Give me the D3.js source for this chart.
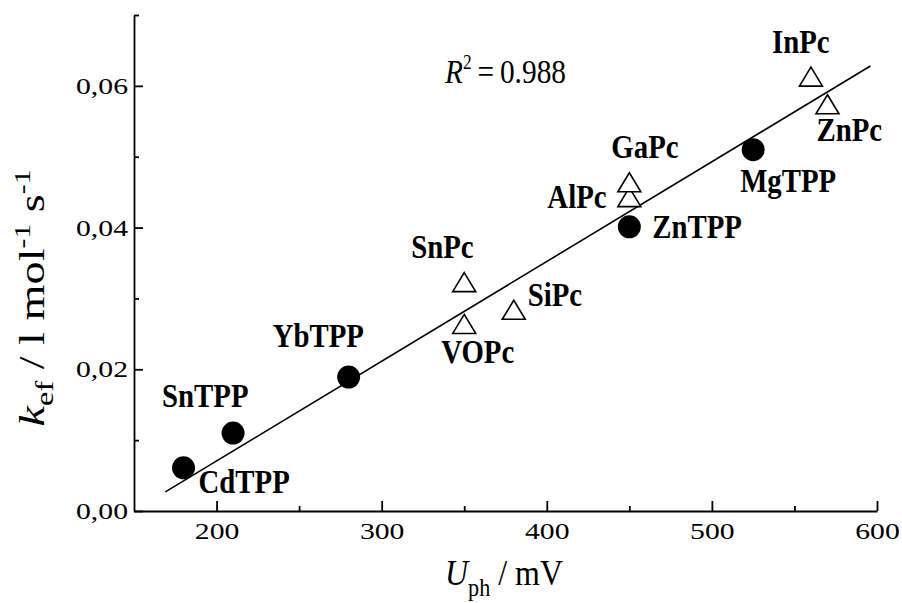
<!DOCTYPE html>
<html>
<head>
<meta charset="utf-8">
<script src="https://cdn.jsdelivr.net/npm/d3@7"></script>
<style>
  body { margin: 0; background: #fff; }
  svg { display: block; }
  svg text { font-family: "Liberation Serif", "Times New Roman", "DejaVu Serif", serif; }
</style>
</head>
<body>
<svg id="chart" width="902" height="603"></svg>
<script>
"use strict";

// compounds, photovoltage (mV) and rate constant
const compounds = ["CdTPP", "SnTPP", "YbTPP", "ZnTPP", "MgTPP",
                   "SnPc", "VOPc", "SiPc", "AlPc", "GaPc", "InPc", "ZnPc"];
const uph = [180, 210, 280, 450, 525, 350, 350, 380, 450, 450, 560, 570];
const kef = [0.0061, 0.0110, 0.0189, 0.0401, 0.0510,
             0.0323, 0.0264, 0.0284, 0.0443, 0.0464, 0.0613, 0.0574];
const family = ["TPP", "TPP", "TPP", "TPP", "TPP",
                "Pc", "Pc", "Pc", "Pc", "Pc", "Pc", "Pc"];

// linear fit end points
const fitU = [169, 596];
const fitK = [0.0027, 0.0628];
const rSquared = "0.988";

// axes
const xTicks = [200, 300, 400, 500, 600];
const xMinor = [250, 350, 450, 550];
const yTicks = [0.00, 0.02, 0.04, 0.06];
const yMinor = [0.01, 0.03, 0.05, 0.07];

const svg = d3.select("#chart");

const x = d3.scaleLinear().domain([150, 600]).range([134, 877]);
const y = d3.scaleLinear().domain([0, 0.07]).range([511, 15]);

// label offsets from the marker to the start of the text (px)
const labelOffset = {
    CdTPP: [15, 25], SnTPP: [-71, -26], YbTPP: [-76, -30], ZnTPP: [23, 11],
    MgTPP: [-13, 42], SnPc: [-53, -24], VOPc: [-23, 39], SiPc: [14, -4],
    AlPc: [-82, 11], GaPc: [-18, -24], InPc: [-39, -24], ZnPc: [-11, 37]
};

// horizontal squeeze so a sample string at a given size gets the width it has in the original
function squeeze(sample, size, targetW, weight) {
    const t = svg.append("text")
        .style("font-size", size + "px")
        .style("font-weight", weight || "normal")
        .text(sample);
    const w = t.node().getComputedTextLength();
    t.remove();
    return targetW / w;
}
const tickPx = 24, labelPx = 34;
const tickK = squeeze("0,06", tickPx, 52);
const labelK = squeeze("MgTPP", labelPx, 96, "bold");

// ---- axes ----
const fmt = d => d.toFixed(2).replace(".", ",");

const gx = svg.append("g")
    .attr("transform", "translate(0," + y(0) + ")")
    .call(d3.axisBottom(x).tickValues(xTicks).tickSizeInner(-10).tickSizeOuter(0).tickPadding(11));
svg.append("g")
    .attr("transform", "translate(0," + y(0) + ")")
    .call(d3.axisBottom(x).tickValues(xMinor).tickSizeInner(-5).tickSizeOuter(0).tickFormat(""))
    .select(".domain").remove();

const gy = svg.append("g")
    .attr("transform", "translate(" + x(150) + ",0)")
    .call(d3.axisLeft(y).tickValues(yTicks).tickSizeInner(-9).tickSizeOuter(0).tickPadding(6).tickFormat(fmt));
svg.append("g")
    .attr("transform", "translate(" + x(150) + ",0)")
    .call(d3.axisLeft(y).tickValues(yMinor).tickSizeInner(-5).tickSizeOuter(0).tickFormat(""))
    .select(".domain").remove();

svg.selectAll(".domain, .tick line")
    .attr("stroke", "#000")
    .attr("stroke-width", 1.8);
svg.selectAll(".tick text")
    .attr("fill", "#000")
    .style("font-size", tickPx + "px");
gx.selectAll(".tick text")
    .attr("transform", "scale(" + tickK + ",1)");
gy.selectAll(".tick text")
    .attr("transform", "translate(-6,0) scale(" + tickK + ",1) translate(6,0)");

// ---- axis titles ----
const xTitle = svg.append("text")
    .attr("x", 504).attr("y", 585)
    .attr("text-anchor", "middle")
    .style("font-size", "36px");
xTitle.append("tspan").style("font-style", "italic").text("U");
xTitle.append("tspan").attr("dy", 11).style("font-size", "25px").text("ph");
xTitle.append("tspan").attr("dy", -11).text(" / mV");
const xLen = xTitle.node().getBBox().width;
xTitle.attr("transform", "translate(504,0) scale(" + (118 / xLen) + ",1) translate(-504,0)");

const yTitleG = svg.append("g")
    .attr("transform", "translate(44,298) rotate(-90)");
const yTitle = yTitleG.append("text")
    .attr("text-anchor", "middle")
    .style("font-size", "36px");
yTitle.append("tspan").style("font-style", "italic").text("k");
yTitle.append("tspan").attr("dy", 9).style("font-size", "25px").text("ef");
yTitle.append("tspan").attr("dy", -9).text(" / l mol");
yTitle.append("tspan").attr("dy", -14).style("font-size", "23px").text("-1");
yTitle.append("tspan").attr("dy", 14).text(" s");
yTitle.append("tspan").attr("dy", -14).style("font-size", "23px").text("-1");
// the title in the original is drawn wide: stretch it to the same length
const yLen = yTitle.node().getBBox().width;
yTitle.attr("transform", "scale(" + (257 / yLen) + ",1)");

// ---- fit line ----
svg.append("line")
    .attr("x1", x(fitU[0])).attr("y1", y(fitK[0]))
    .attr("x2", x(fitU[1])).attr("y2", y(fitK[1]))
    .attr("stroke", "#000")
    .attr("stroke-width", 1.6);

// ---- R^2 ----
const r2 = svg.append("text")
    .attr("x", 445).attr("y", 83)
    .style("font-size", "34px");
r2.append("tspan").style("font-style", "italic").text("R");
r2.append("tspan").attr("dy", -14).style("font-size", "20px").text("2");
r2.append("tspan").attr("dy", 14).text("\u2009=\u2009" + rSquared);
const rLen = r2.node().getBBox().width;
r2.attr("transform", "translate(445,0) scale(" + (122 / rLen) + ",1) translate(-445,0)");

// ---- markers ----
const points = compounds.map((c, i) => ({ name: c, u: uph[i], k: kef[i], fam: family[i] }));

svg.selectAll("circle.tpp")
    .data(points.filter(d => d.fam === "TPP"))
    .enter().append("circle")
    .attr("class", "tpp")
    .attr("cx", d => x(d.u))
    .attr("cy", d => y(d.k))
    .attr("r", 11.5)
    .attr("fill", "#000");

const tri = "M0,-9.5L11.5,9.5L-11.5,9.5Z";
svg.selectAll("path.pc")
    .data(points.filter(d => d.fam === "Pc"))
    .enter().append("path")
    .attr("class", "pc")
    .attr("d", tri)
    .attr("transform", d => "translate(" + x(d.u) + "," + y(d.k) + ")")
    .attr("fill", "#fff")
    .attr("stroke", "#000")
    .attr("stroke-width", 1.6);

// ---- point labels ----
svg.selectAll("text.lbl")
    .data(points)
    .enter().append("text")
    .attr("class", "lbl")
    .attr("transform", d => "translate(" + (x(d.u) + labelOffset[d.name][0]) + "," +
        (y(d.k) + labelOffset[d.name][1]) + ") scale(" + labelK + ",1)")
    .style("font-size", labelPx + "px")
    .style("font-weight", "bold")
    .text(d => d.name);
</script>
</body>
</html>
